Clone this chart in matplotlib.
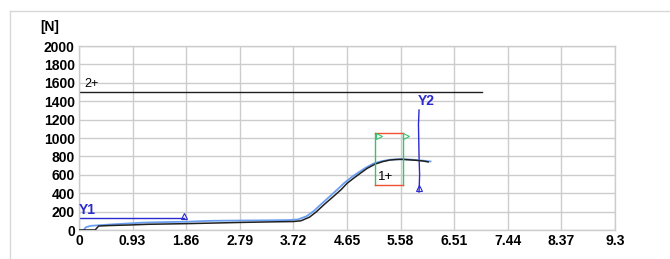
import numpy as np
import matplotlib.pyplot as plt
from matplotlib.lines import Line2D

plt.rcParams['font.family'] = ['Liberation Sans', 'DejaVu Sans']

# force curve (black) and reference curve (blue)
xBlack = [0.0, 0.28, 0.34, 0.5, 0.9, 1.2, 1.86, 2.3, 2.79, 3.3, 3.72, 3.85,
          4.0, 4.12, 4.25, 4.41, 4.55, 4.65, 4.78, 4.88, 5.0, 5.14, 5.28,
          5.40, 5.50, 5.60, 5.75, 5.90, 5.97, 6.06]
yBlack = [0, 0, 43, 48, 55, 62, 69, 75, 82, 88, 92, 100,
          140, 199, 275, 362, 440, 507, 570, 616, 670, 717, 745,
          761, 766, 768, 762, 755, 750, 740]
xBlue = [0.08, 0.12, 0.2, 0.35, 0.6, 1.1, 1.5, 1.86, 2.3, 2.79, 3.3, 3.65,
         3.8, 3.95, 4.08, 4.2, 4.36, 4.5, 4.6, 4.73, 4.84, 4.97, 5.1, 5.25,
         5.40, 5.55, 5.70, 5.85, 6.0, 6.1]
yBlue = [0, 30, 45, 52, 62, 80, 86, 90, 100, 103, 105, 108,
         115, 150, 210, 280, 370, 450, 510, 575, 622, 675, 720, 748,
         764, 770, 768, 760, 752, 745]

xTicks = [0, 0.93, 1.86, 2.79, 3.72, 4.65, 5.58, 6.51, 7.44, 8.37, 9.3]
xTickLabels = ['0', '0.93', '1.86', '2.79', '3.72', '4.65', '5.58', '6.51',
               '7.44', '8.37', '9.3']
yTicks = list(range(0, 2001, 200))

# markers / cursors
limit2 = 1500
limit2End = 7.0
y1Level = 130
y1End = 1.82
y2X = 5.90
y2Low, y2High = 413, 1304
boxX = [5.14, 5.62]
boxY = [489, 1054]

fig = plt.figure(figsize=(6.7, 2.59), dpi=100)
ax = fig.add_axes([79/670, 1-230/259, 536/670, 184/259])

grey = '#cccccc'
ax.set_xlim(0, 9.3)
ax.set_ylim(0, 2000)
ax.set_xticks(xTicks)
ax.set_xticklabels(xTickLabels)
ax.set_yticks(yTicks)
ax.grid(True, color=grey, linewidth=1.0)
for sp in ax.spines.values():
    sp.set_color(grey)
    sp.set_linewidth(1.0)
ax.tick_params(length=0, pad=3, labelsize=10)
for lab in ax.get_xticklabels() + ax.get_yticklabels():
    lab.set_fontweight('bold')

ax.plot(xBlue, yBlue, color='#6a9ef0', linewidth=1.3, zorder=3)
ax.plot(xBlack, yBlack, color='#202020', linewidth=1.1, zorder=4)

# limit line 2+
ax.plot([0, limit2End], [limit2, limit2], color='#202020', linewidth=1.0)
ax.text(0.1, limit2 + 25, '2+', fontsize=9, ha='left', va='bottom')

# Y1 cursor
ax.plot([0, y1End], [y1Level, y1Level], color='#2a2ad0', linewidth=1.0)
ax.plot([y1End], [y1Level + 25], marker='^', markersize=4, mfc='none',
        mec='#2a2ad0', mew=0.8, linestyle='none')
ax.text(0.0, y1Level + 10, 'Y1', color='#2a2ad0', fontsize=10,
        fontweight='bold', ha='left', va='bottom')

# Y2 cursor
ax.plot([y2X, y2X - 0.01, y2X, y2X + 0.01, y2X],
        [y2High, 1150, 800, 600, y2Low], color='#2a2ad0', linewidth=1.0)
ax.plot([y2X], [y2Low + 40], marker='^', markersize=4, mfc='none',
        mec='#2a2ad0', mew=0.8, linestyle='none')
ax.text(y2X - 0.02, y2High + 20, 'Y2', color='#2a2ad0', fontsize=10,
        fontweight='bold', ha='left', va='bottom')

# evaluation box 1+
ax.plot([boxX[0], boxX[0]], boxY, color='#3cc070', linewidth=1.0, zorder=5)
ax.plot([boxX[1], boxX[1]], boxY, color='#3cc070', linewidth=1.0, zorder=5)
ax.plot(boxX, [boxY[1], boxY[1]], color='#f05030', linewidth=1.0, zorder=5)
ax.plot(boxX, [boxY[0], boxY[0]], color='#f05030', linewidth=1.0, zorder=5)
for bx in boxX:
    ax.plot([bx + 0.06], [boxY[1] - 35], marker='>', markersize=4,
            mfc='none', mec='#3cc070', mew=0.8, linestyle='none', zorder=5)
ax.text(boxX[0] + 0.04, boxY[0] + 25, '1+', fontsize=9.5, ha='left',
        va='bottom', zorder=6)

fig.text(40/670, 1-27/259, '[N]', fontsize=10, fontweight='bold',
         ha='left', va='center')

# outer frame (top and left edges)
fig.add_artist(Line2D([10/670, 1], [1-11/259, 1-11/259], color='#d8d8d8',
                      linewidth=1.0, transform=fig.transFigure))
fig.add_artist(Line2D([10/670, 10/670], [0, 1-11/259], color='#d8d8d8',
                      linewidth=1.0, transform=fig.transFigure))

fig.savefig('out.png', dpi=100)
